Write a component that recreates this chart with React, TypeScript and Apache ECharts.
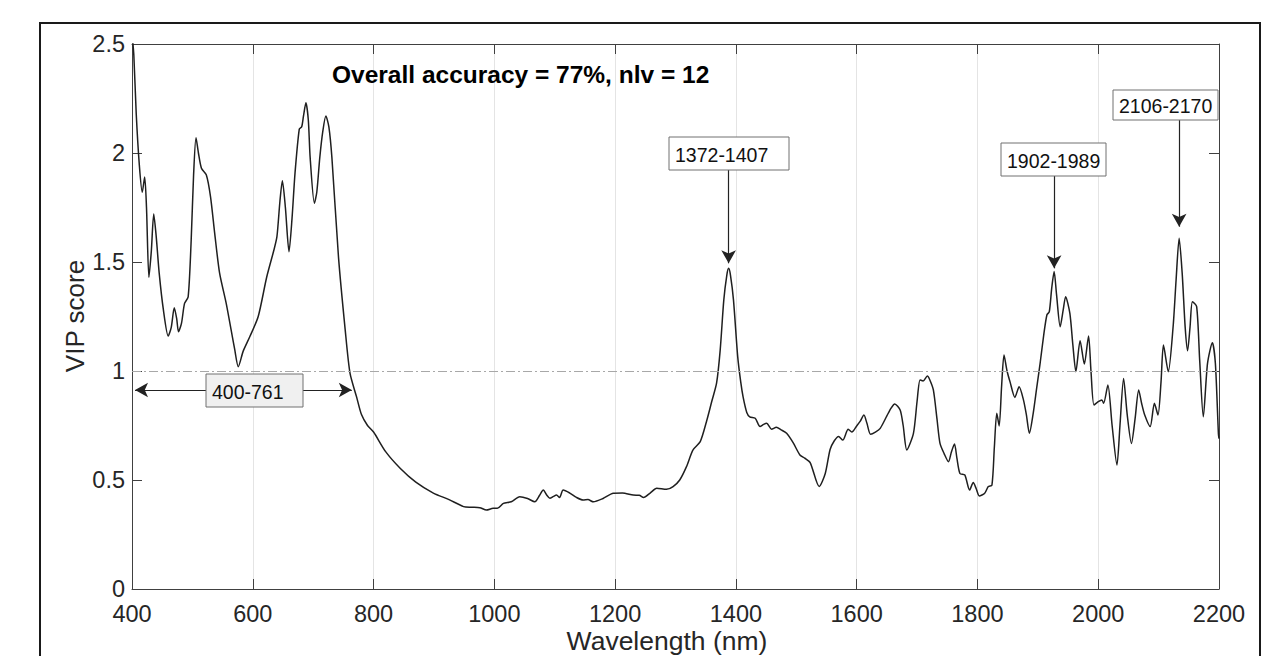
import React, { useEffect, useRef } from "react";
import * as echarts from "echarts";

// ---------- data ----------
const wavelengths = [
  400, 403, 407, 412, 417, 421, 424, 428, 432, 436, 440, 445, 452, 460, 465, 470, 474, 477, 482, 487,
  493, 498, 502, 506, 510, 515, 523, 530, 537, 545, 556, 570, 576, 584, 595, 609, 623, 635, 640, 645,
  649, 654, 660, 665, 670, 677, 681, 684, 688, 692, 695, 702, 706, 711, 716, 721, 726, 731, 742, 753,
  761, 772, 780, 790, 800, 820, 844, 870, 899, 925, 949, 962, 976, 987, 998, 1005, 1015, 1028, 1042, 1055,
  1067, 1075, 1081, 1087, 1092, 1098, 1103, 1108, 1114, 1125, 1136, 1147, 1155, 1164, 1180, 1197, 1212, 1230, 1240, 1247,
  1258, 1269, 1285, 1296, 1307, 1318, 1329, 1341, 1352, 1360, 1368, 1374, 1380, 1385, 1388, 1391, 1396, 1403, 1408, 1412,
  1418, 1423, 1432, 1440, 1446, 1451, 1459, 1467, 1475, 1484, 1495, 1506, 1514, 1523, 1538, 1548, 1556, 1563, 1570, 1577,
  1586, 1592, 1600, 1606, 1612, 1617, 1623, 1631, 1639, 1650, 1657, 1663, 1672, 1677, 1683, 1694, 1700, 1705, 1710, 1717,
  1721, 1727, 1733, 1738, 1745, 1752, 1757, 1762, 1766, 1771, 1779, 1787, 1793, 1798, 1803, 1812, 1818, 1824, 1828, 1832,
  1836, 1840, 1844, 1849, 1854, 1862, 1869, 1876, 1881, 1886, 1892, 1898, 1904, 1910, 1915, 1919, 1923, 1927, 1931, 1937,
  1942, 1946, 1953, 1958, 1963, 1970, 1977, 1984, 1988, 1993, 2000, 2006, 2009, 2016, 2023, 2031, 2036, 2042, 2048, 2055,
  2061, 2067, 2072, 2077, 2086, 2093, 2099, 2104, 2108, 2116, 2124, 2129, 2134, 2139, 2144, 2148, 2152, 2156, 2163, 2168,
  2174, 2181, 2189, 2194, 2199, 2200,
];

const vipScores = [
  2.55, 2.45, 2.18, 1.95, 1.82, 1.89, 1.75, 1.43, 1.55, 1.72, 1.62, 1.45, 1.28, 1.16, 1.2, 1.29, 1.24, 1.18, 1.22, 1.31,
  1.34, 1.6, 1.9, 2.07, 2.0, 1.93, 1.9, 1.8, 1.63, 1.45, 1.31, 1.1, 1.02, 1.09, 1.157, 1.25, 1.43, 1.555, 1.616, 1.78,
  1.873, 1.75, 1.547, 1.7, 1.91, 2.11, 2.12, 2.17, 2.23, 2.15, 1.98, 1.77, 1.82, 1.98, 2.1, 2.17, 2.12, 1.98, 1.52, 1.19,
  0.99, 0.88, 0.8, 0.75, 0.72, 0.63, 0.554, 0.49, 0.44, 0.41, 0.378, 0.375, 0.373, 0.362, 0.37, 0.37, 0.393, 0.4, 0.423, 0.415,
  0.4, 0.43, 0.454, 0.43, 0.416, 0.425, 0.431, 0.42, 0.454, 0.44, 0.42, 0.408, 0.41, 0.4, 0.415, 0.439, 0.44, 0.431, 0.43, 0.42,
  0.44, 0.462, 0.457, 0.47, 0.5, 0.56, 0.638, 0.676, 0.775, 0.86, 0.944, 1.096, 1.326, 1.44, 1.471, 1.44, 1.326, 1.066, 0.95, 0.88,
  0.81, 0.79, 0.783, 0.745, 0.755, 0.76, 0.733, 0.742, 0.73, 0.714, 0.67, 0.615, 0.6, 0.58, 0.47, 0.53, 0.64, 0.68, 0.7, 0.683,
  0.733, 0.72, 0.748, 0.77, 0.798, 0.76, 0.71, 0.72, 0.737, 0.794, 0.83, 0.849, 0.821, 0.75, 0.638, 0.714, 0.86, 0.959, 0.954, 0.977,
  0.96, 0.913, 0.78, 0.668, 0.62, 0.584, 0.63, 0.665, 0.6, 0.53, 0.523, 0.454, 0.488, 0.46, 0.427, 0.439, 0.47, 0.477, 0.65, 0.806,
  0.748, 0.93, 1.073, 1.0, 0.95, 0.879, 0.928, 0.87, 0.8, 0.714, 0.8, 0.92, 1.04, 1.17, 1.257, 1.272, 1.38, 1.456, 1.35, 1.203,
  1.28, 1.341, 1.265, 1.12, 0.997, 1.139, 1.032, 1.161, 1.0, 0.844, 0.859, 0.867, 0.852, 0.936, 0.75, 0.569, 0.75, 0.966, 0.8, 0.668,
  0.78, 0.913, 0.85, 0.798, 0.745, 0.852, 0.798, 0.95, 1.119, 0.997, 1.203, 1.42, 1.609, 1.45, 1.2, 1.093, 1.2, 1.318, 1.295, 1.05,
  0.79, 1.035, 1.13, 1.035, 0.714, 0.69,
];

const xTickValues = [400, 600, 800, 1000, 1200, 1400, 1600, 1800, 2000, 2200];
const yTickValues = [0, 0.5, 1, 1.5, 2, 2.5];
const thresholdValue = 1;

const titleText = "Overall accuracy = 77%, nlv = 12";
const xAxisTitle = "Wavelength (nm)";
const yAxisTitle = "VIP score";

// annotation arrows (data coordinates)
const peakLabels = ["1372-1407", "1902-1989", "2106-2170"];
const peakArrowX = [1388, 1927, 2134];
const peakArrowFromY = [1.922, 1.896, 2.151];
const peakArrowToY = [1.494, 1.471, 1.662];
const rangeLabel = "400-761";
const rangeArrowStart = [405, 0.913];
const rangeArrowEnd = [764, 0.913];

const FONT = "'Liberation Sans', Arial, Helvetica, sans-serif";

export default function App() {
  const ref = useRef<HTMLDivElement>(null);

  useEffect(() => {
    if (!ref.current) return;
    const chart = echarts.init(ref.current, null, { renderer: "svg" });

    const axisColor = "#404040";
    const xMin = xTickValues[0];
    const xMax = xTickValues[xTickValues.length - 1];
    const yMin = yTickValues[0];
    const yMax = yTickValues[yTickValues.length - 1];

    const baseX = {
      type: "value",
      min: xMin,
      max: xMax,
      interval: 200,
      axisLine: { show: true, onZero: false, lineStyle: { color: axisColor, width: 1 } },
      axisTick: { show: true, inside: true, length: 10, lineStyle: { color: axisColor } },
    };
    const baseY = {
      type: "value",
      min: yMin,
      max: yMax,
      interval: 0.5,
      axisLine: { show: true, onZero: false, lineStyle: { color: axisColor, width: 1 } },
      axisTick: { show: true, inside: true, length: 10, lineStyle: { color: axisColor } },
    };

    const boxes = [
      { text: rangeLabel, x: 206, y: 374, w: 97, h: 33, fill: "#f0f0f0" },
      { text: peakLabels[0], x: 669, y: 137, w: 120, h: 33, fill: "#ffffff" },
      { text: peakLabels[1], x: 1001, y: 143, w: 105, h: 33, fill: "#ffffff" },
      { text: peakLabels[2], x: 1113, y: 90, w: 105, h: 30, fill: "#ffffff" },
    ];

    const arrowData: any[] = peakArrowX.map((x, i) => [
      { coord: [x, peakArrowFromY[i]], symbol: "none" },
      { coord: [x, peakArrowToY[i]], symbol: "arrow" },
    ]);
    arrowData.push([
      { coord: rangeArrowStart, symbol: "arrow" },
      { coord: rangeArrowEnd, symbol: "arrow" },
    ]);

    const option: any = {
      animation: false,
      backgroundColor: "#ffffff",
      grid: { left: 132, top: 44, right: 57, bottom: 67, containLabel: false },
      xAxis: [
        {
          ...baseX,
          position: "bottom",
          axisLabel: {
            show: true,
            color: "#262626",
            fontSize: 23.5,
            fontFamily: FONT,
            margin: 13,
            formatter: (v: number) => String(v),
          },
          splitLine: { show: true, lineStyle: { color: "#e4e4e4", width: 1 } },
        },
        {
          ...baseX,
          position: "top",
          axisLabel: { show: false },
          splitLine: { show: false },
        },
      ],
      yAxis: [
        {
          ...baseY,
          position: "left",
          axisLabel: {
            show: true,
            color: "#262626",
            fontSize: 23.5,
            fontFamily: FONT,
            margin: 7,
            formatter: (v: number) => String(v),
          },
          splitLine: { show: false },
        },
        {
          ...baseY,
          position: "right",
          axisLabel: { show: false },
          splitLine: { show: false },
        },
      ],
      series: [
        {
          type: "line",
          xAxisIndex: 0,
          yAxisIndex: 0,
          data: wavelengths.map((w, i) => [w, vipScores[i]]),
          showSymbol: false,
          smooth: 0.25,
          clip: true,
          lineStyle: { color: "#1f1f1f", width: 1.5 },
          markLine: {
            silent: true,
            symbol: ["none", "none"],
            label: { show: false },
            lineStyle: { color: "#a8a8a8", width: 1, type: [9, 3, 2, 3] },
            data: [{ yAxis: thresholdValue }],
          },
          z: 3,
        },
        {
          type: "line",
          xAxisIndex: 0,
          yAxisIndex: 0,
          data: [],
          markLine: {
            silent: true,
            symbol: ["none", "arrow"],
            symbolSize: [11, 13],
            label: { show: false },
            lineStyle: { color: "#222222", width: 1.2, type: "solid" },
            data: arrowData,
          },
          z: 4,
        },
      ],
      graphic: [
        {
          type: "rect",
          shape: { x: 40, y: 23, width: 1220, height: 700 },
          style: { fill: "none", stroke: "#1a1a1a", lineWidth: 2 },
          z: 10,
        },
        {
          type: "text",
          x: 332,
          y: 74,
          style: {
            text: titleText,
            font: `bold 24.5px ${FONT}`,
            fill: "#000000",
            textAlign: "left",
            textVerticalAlign: "middle",
          },
          z: 10,
        },
        {
          type: "text",
          x: 667,
          y: 641,
          style: {
            text: xAxisTitle,
            font: `26.5px ${FONT}`,
            fill: "#262626",
            textAlign: "center",
            textVerticalAlign: "middle",
          },
          z: 10,
        },
        {
          type: "text",
          x: 75,
          y: 316,
          rotation: Math.PI / 2,
          style: {
            text: yAxisTitle,
            font: `26px ${FONT}`,
            fill: "#262626",
            textAlign: "center",
            textVerticalAlign: "middle",
          },
          z: 10,
        },
        ...boxes.map((b) => ({
          type: "group",
          z: 20,
          children: [
            {
              type: "rect",
              shape: { x: b.x, y: b.y, width: b.w, height: b.h },
              style: { fill: b.fill, stroke: "#707070", lineWidth: 1 },
              z: 20,
            },
            {
              type: "text",
              x: b.x + 6,
              y: b.y + b.h / 2 + 1,
              style: {
                text: b.text,
                font: `19.5px ${FONT}`,
                fill: "#111111",
                textAlign: "left",
                textVerticalAlign: "middle",
              },
              z: 21,
            },
          ],
        })),
      ],
    };

    chart.setOption(option);
    return () => chart.dispose();
  }, []);

  return (
    <div
      ref={ref}
      style={{ position: "absolute", left: 0, top: 0, width: 1276, height: 656, background: "#fff" }}
    />
  );
}
